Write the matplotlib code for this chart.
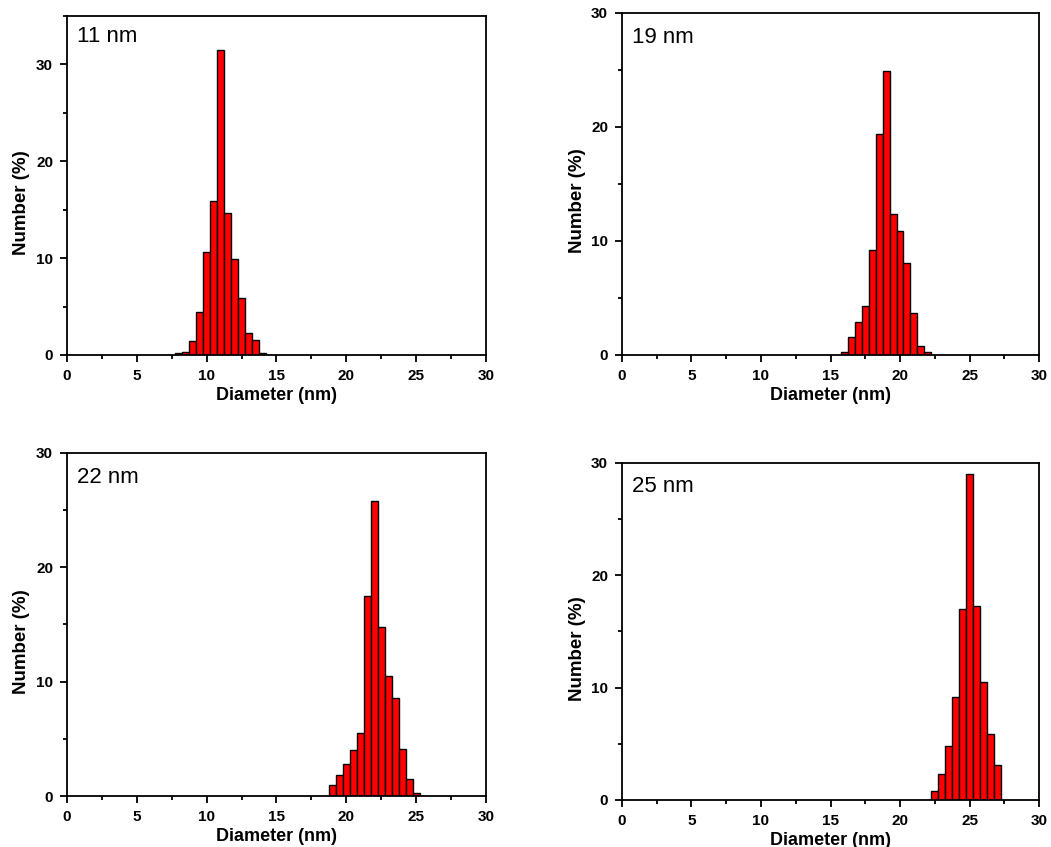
import numpy as np
import matplotlib
matplotlib.use('Agg')
import matplotlib.pyplot as plt
from matplotlib.ticker import MultipleLocator

plt.rcParams['font.family'] = ['Liberation Sans', 'DejaVu Sans']

# bin centres (nm) and number (%) for each sample, 0.5 nm bins
d11 = [8.0, 8.5, 9.0, 9.5, 10.0, 10.5, 11.0, 11.5, 12.0, 12.5, 13.0, 13.5, 14.0]
n11 = [0.17, 0.3, 1.4, 4.4, 10.6, 15.9, 31.5, 14.7, 9.9, 5.9, 2.3, 1.5, 0.25]

d19 = [16.0, 16.5, 17.0, 17.5, 18.0, 18.5, 19.0, 19.5, 20.0, 20.5, 21.0, 21.5, 22.0]
n19 = [0.3, 1.6, 2.9, 4.3, 9.2, 19.4, 24.9, 12.4, 10.9, 8.1, 3.7, 0.75, 0.3]

d22 = [19.0, 19.5, 20.0, 20.5, 21.0, 21.5, 22.0, 22.5, 23.0, 23.5, 24.0, 24.5, 25.0]
n22 = [1.0, 1.8, 2.8, 4.0, 5.5, 17.5, 25.8, 14.8, 10.5, 8.6, 4.1, 1.5, 0.3]

d25 = [22.5, 23.0, 23.5, 24.0, 24.5, 25.0, 25.5, 26.0, 26.5, 27.0]
n25 = [0.8, 2.3, 4.8, 9.2, 17.0, 29.0, 17.3, 10.5, 5.9, 3.1]

labels = ['11 nm', '19 nm', '22 nm', '25 nm']
ytops = [35, 30, 30, 30]

fig = plt.figure(figsize=(10.51, 8.47), dpi=100)
boxes = [[0.0637, 0.5809, 0.3987, 0.4002],
         [0.5918, 0.5809, 0.3968, 0.4038],
         [0.0637, 0.0602, 0.3987, 0.4050],
         [0.5918, 0.0555, 0.3968, 0.3980]]
data = [(d11, n11), (d19, n19), (d22, n22), (d25, n25)]

for i in range(4):
    ax = fig.add_axes(boxes[i])
    x, y = data[i]
    ax.bar(x, y, width=0.5, color='#ff0000', edgecolor='black', linewidth=1.0)
    ax.set_xlim(0, 30)
    ax.set_ylim(0, ytops[i])
    ax.xaxis.set_major_locator(MultipleLocator(5))
    ax.xaxis.set_minor_locator(MultipleLocator(2.5))
    ax.yaxis.set_major_locator(MultipleLocator(10))
    ax.yaxis.set_minor_locator(MultipleLocator(5))
    ax.tick_params(which='major', direction='out', length=5, width=1.3,
                   labelsize=11, pad=5)
    ax.tick_params(which='minor', direction='out', length=3, width=1.3)
    for lab in ax.get_xticklabels() + ax.get_yticklabels():
        lab.set_fontweight('bold')
    for s in ax.spines.values():
        s.set_linewidth(1.3)
    ax.set_xlabel('Diameter (nm)', fontsize=13, fontweight='bold', labelpad=3)
    ax.set_ylabel('Number (%)', fontsize=13.5, fontweight='bold')
    ax.yaxis.set_label_coords(-0.087, 0.45)
    ty = 0.97 if i == 0 else 0.96
    ax.text(0.025, ty, labels[i], transform=ax.transAxes, fontsize=16,
            ha='left', va='top')

fig.savefig('out.png', dpi=100)
